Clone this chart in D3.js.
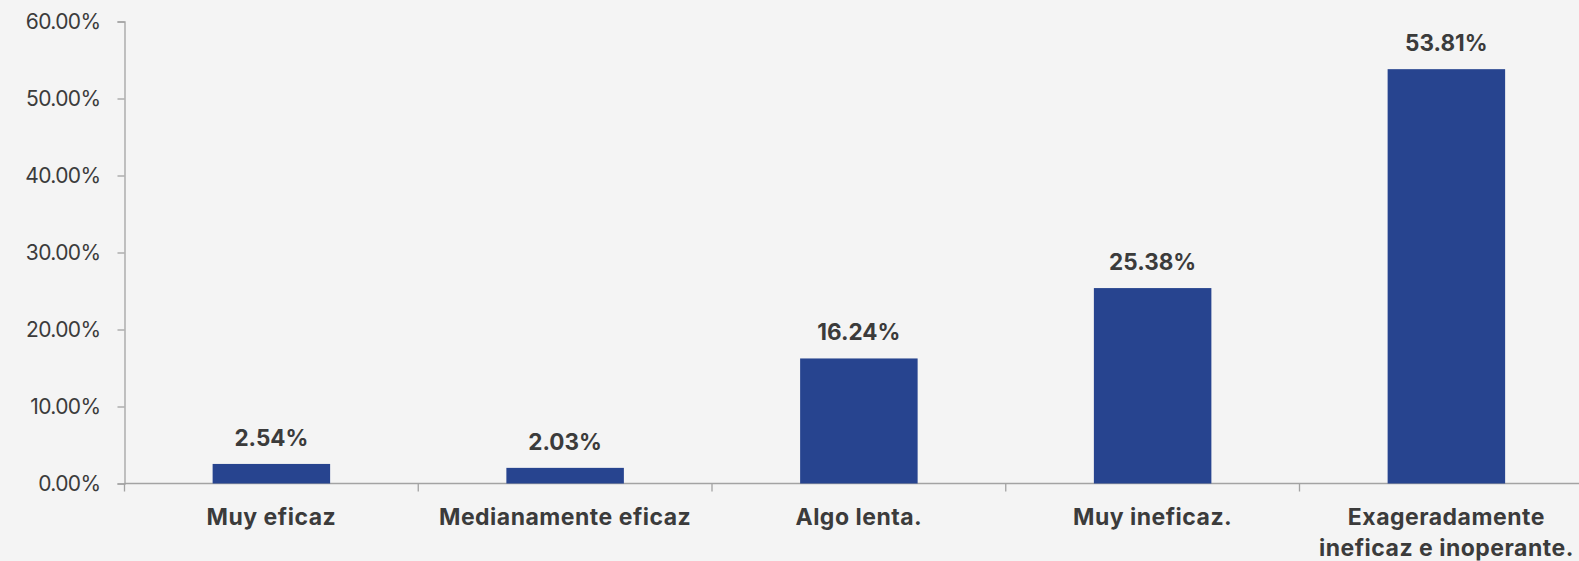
<!DOCTYPE html>
<html>
<head>
<meta charset="utf-8">
<script src="https://cdn.jsdelivr.net/npm/d3@7/dist/d3.min.js"></script>
<style>
  html, body { margin: 0; padding: 0; background: #f4f4f4; }
  svg { display: block; }
  text { font-family: Inter, "Open Sans", "Liberation Sans", sans-serif; }
</style>
</head>
<body>
<svg id="chart" width="1579" height="561"></svg>
<script>
const categories = ["Muy eficaz", "Medianamente eficaz", "Algo lenta.", "Muy ineficaz.", "Exageradamente\nineficaz e inoperante."];
const values = [0.0254, 0.0203, 0.1624, 0.2538, 0.5381];
const yTicks = [0, 0.1, 0.2, 0.3, 0.4, 0.5, 0.6];

const W = 1579, H = 561;
const svg = d3.select("#chart");
svg.append("rect").attr("width", W).attr("height", H).attr("fill", "#f4f4f4");

const left = 124.5, step = 293.75;
const x = d3.scaleBand().domain(categories)
  .range([left, left + step * categories.length])
  .paddingInner(0.6).paddingOuter(0.3);
const y = d3.scaleLinear().domain([0, 0.6]).range([483.5, 21.5]);

const axisColor = "#a3a3a3";
const textColor = "#3b3b3b";

// Y axis
const yAxis = d3.axisLeft(y).tickValues(yTicks).tickSize(7).tickPadding(17)
  .tickFormat(d => (d * 100).toFixed(2) + "%");
const gy = svg.append("g").attr("transform", `translate(${left},0)`).call(yAxis);
gy.select(".domain").attr("stroke", axisColor).attr("stroke-width", 1.3);
gy.selectAll(".tick line").attr("stroke", axisColor).attr("stroke-width", 1.3);
gy.selectAll(".tick text").attr("fill", textColor).attr("font-size", 21)
  .attr("letter-spacing", -0.6)
  .attr("font-family", "Inter, sans-serif");

// X axis line
svg.append("line").attr("x1", left).attr("x2", W).attr("y1", y(0)).attr("y2", y(0))
  .attr("stroke", axisColor).attr("stroke-width", 1.3);
// X tick marks at band boundaries
const boundaries = d3.range(categories.length + 1).map(i => x.range()[0] + i * x.step());
svg.selectAll(".xtick").data(boundaries).enter().append("line")
  .attr("x1", d => d).attr("x2", d => d)
  .attr("y1", y(0)).attr("y2", y(0) + 8)
  .attr("stroke", axisColor).attr("stroke-width", 1.3);

// Bars
svg.selectAll(".bar").data(values).enter().append("rect")
  .attr("x", (d, i) => x(categories[i]))
  .attr("width", x.bandwidth())
  .attr("y", d => y(d))
  .attr("height", d => y(0) - y(d))
  .attr("fill", "#27448f");

// Value labels
svg.selectAll(".val").data(values).enter().append("text")
  .attr("x", (d, i) => x(categories[i]) + x.bandwidth() / 2)
  .attr("y", d => y(d) - 18)
  .attr("text-anchor", "middle")
  .attr("font-size", 22.5)
  .attr("font-weight", "bold")
  .attr("fill", textColor)
  .text(d => (d * 100).toFixed(2) + "%");

// Category labels
categories.forEach(c => {
  const lines = c.split("\n");
  const cx = x(c) + x.bandwidth() / 2;
  const t = svg.append("text")
    .attr("x", cx)
    .attr("y", 525)
    .attr("text-anchor", "middle")
    .attr("font-size", 23)
    .attr("letter-spacing", 0.5)
    .attr("font-weight", "bold")
    .attr("fill", textColor);
  lines.forEach((l, i) => {
    t.append("tspan").attr("x", cx).attr("dy", i === 0 ? 0 : 31).text(l);
  });
});
</script>
</body>
</html>
